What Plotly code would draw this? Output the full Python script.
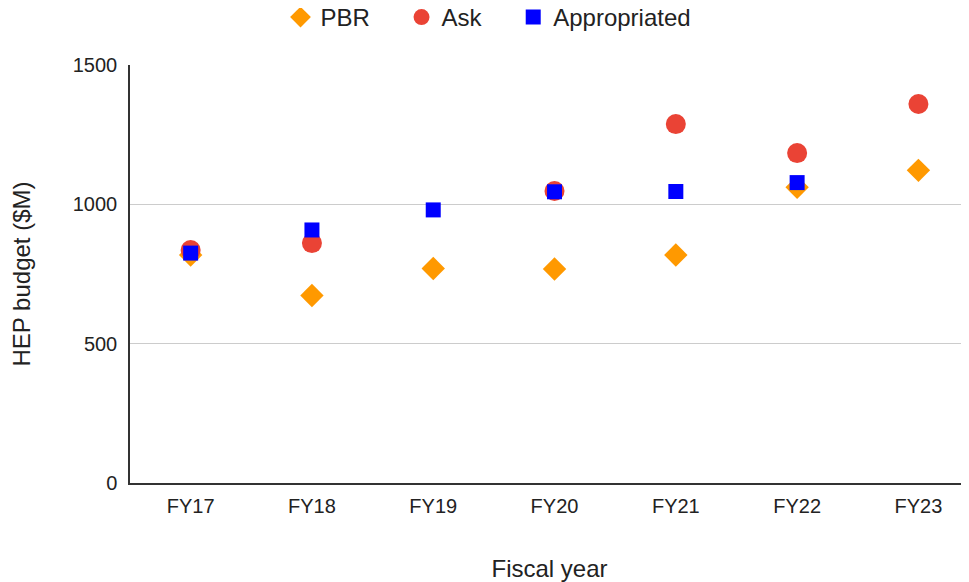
import plotly.graph_objects as go

years = ["FY17", "FY18", "FY19", "FY20", "FY21", "FY22", "FY23"]
pbr = [818, 673, 770, 768, 818, 1061, 1122]
ask_years = ["FY17", "FY18", "FY20", "FY21", "FY22", "FY23"]
ask = [836, 861, 1048, 1288, 1184, 1360]
appr_years = ["FY17", "FY18", "FY19", "FY20", "FY21", "FY22"]
appropriated = [825, 908, 980, 1045, 1046, 1078]

pad = "\u00a0" * 4
fig = go.Figure()
fig.add_trace(go.Scatter(x=years, y=pbr, mode="markers", name="PBR" + pad,
                         marker=dict(symbol="diamond", size=18, color="#ff9900")))
fig.add_trace(go.Scatter(x=ask_years, y=ask, mode="markers", name="Ask" + pad,
                         marker=dict(symbol="circle", size=20, color="#ea4335")))
fig.add_trace(go.Scatter(x=appr_years, y=appropriated, mode="markers", name="Appropriated",
                         marker=dict(symbol="square", size=15, color="#0000ff")))

font = "Liberation Sans, Arial, sans-serif"
fig.update_layout(
    width=961, height=574,
    margin=dict(l=122, r=0, t=57, b=99, autoexpand=False),
    plot_bgcolor="white", paper_bgcolor="white",
    font=dict(family=font, size=20, color="#222222"),
    showlegend=True,
    legend=dict(orientation="h", xref="container", yref="paper",
                x=0.5, xanchor="center", y=1.1675, yanchor="top",
                bgcolor="rgba(0,0,0,0)",
                font=dict(size=24), itemsizing="trace"),
    xaxis=dict(type="category", range=[-0.5, 6.417], showgrid=False,
               showline=True, linecolor="#333333", linewidth=1.5,
               ticks="", ticklabelstandoff=4,
               title=dict(text="Fiscal year", font=dict(size=24), standoff=48)),
    yaxis=dict(range=[0, 1500], tickvals=[0, 500, 1000, 1500],
               showgrid=True, gridcolor="#cccccc", gridwidth=1,
               showline=True, linecolor="#333333", linewidth=1.5,
               zeroline=False, ticks="", ticklabelstandoff=7,
               title=dict(text="HEP budget ($M)", font=dict(size=24), standoff=42)),
)
fig.write_html("out.html")
